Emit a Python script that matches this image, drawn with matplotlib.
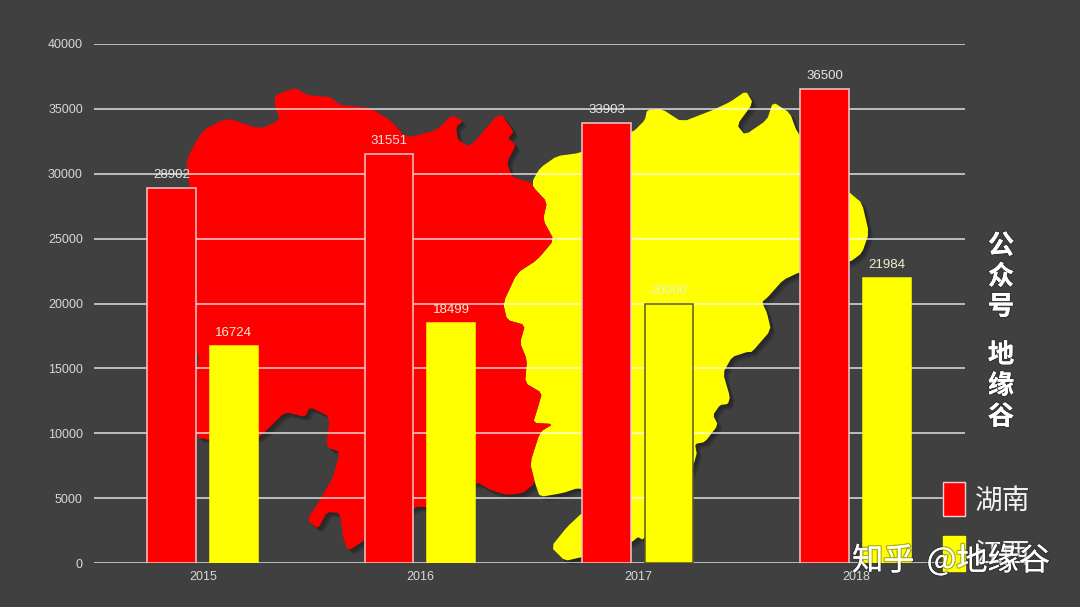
import matplotlib
matplotlib.use('Agg')
import matplotlib.pyplot as plt
import matplotlib.patheffects as pe
from matplotlib.patches import Polygon, Rectangle

plt.rcParams['font.family'] = ['Liberation Sans', 'Noto Sans CJK SC', 'DejaVu Sans']

# 数据
years = ['2015', '2016', '2017', '2018']
hunan = [28902, 31551, 33903, 36500]
jiangxi = [16724, 18499, 20000, 21984]
y_ticks = [0, 5000, 10000, 15000, 20000, 25000, 30000, 35000, 40000]

# 背景地图轮廓（像素坐标，只是装饰）
hunan_outline = [
    (275, 95), (295, 88), (307, 95), (330, 97), (340, 105), (370, 108), (390, 120),
    (407, 138), (437, 130), (452, 115), (463, 121), (456, 127), (458, 140), (470, 147),
    (500, 112), (514, 132), (508, 138), (516, 145), (507, 162), (512, 177), (532, 183),
    (533, 187), (547, 202), (543, 220), (554, 240), (537, 260), (517, 273), (503, 303),
    (507, 320), (525, 325), (520, 343), (527, 360), (525, 383), (542, 393), (538, 407),
    (533, 423), (553, 424), (540, 432), (530, 463), (535, 483), (523, 493), (507, 495),
    (490, 490), (477, 482), (445, 495), (427, 507), (415, 507), (390, 525), (365, 540),
    (348, 551), (343, 537), (340, 513), (327, 512), (318, 529), (307, 520), (320, 500),
    (333, 477), (340, 452), (326, 447), (330, 417), (310, 407), (305, 417), (285, 412),
    (267, 430), (258, 438), (209, 440), (196, 437), (196, 375), (199, 357), (196, 350),
    (190, 190), (186, 160), (203, 130), (227, 118), (260, 129), (280, 120), (275, 106),
]
jiangxi_outline = [
    (533, 180), (540, 168), (557, 156), (580, 153), (633, 132), (645, 120), (647, 110),
    (662, 109), (682, 122), (713, 110), (730, 102), (746, 91), (753, 103), (737, 125),
    (745, 135), (767, 120), (773, 102), (790, 113), (797, 132), (825, 170), (850, 193),
    (862, 203), (869, 233), (862, 253), (850, 262), (800, 272), (783, 280), (768, 297),
    (762, 302), (767, 313), (771, 330), (752, 352), (747, 352), (732, 357), (723, 373),
    (730, 397), (728, 404), (720, 405), (713, 415), (718, 425), (705, 442), (695, 444),
    (697, 455), (680, 500), (643, 540), (638, 537), (632, 542), (600, 555), (582, 557),
    (565, 561), (551, 547), (567, 527), (582, 513), (600, 500), (590, 492), (578, 488),
    (563, 493), (540, 497), (535, 483), (530, 463), (540, 432), (553, 424), (533, 423),
    (538, 407), (542, 393), (525, 383), (527, 360), (520, 343), (525, 325), (507, 320),
    (503, 303), (517, 273), (537, 260), (554, 240), (543, 220), (547, 202), (533, 187),
]


# 把折线轮廓磨圆一点
def smooth(points, n=1):
    for _ in range(n):
        new = []
        for i, (x0, y0) in enumerate(points):
            x1, y1 = points[(i + 1) % len(points)]
            new.append((0.85 * x0 + 0.15 * x1, 0.85 * y0 + 0.15 * y1))
            new.append((0.15 * x0 + 0.85 * x1, 0.15 * y0 + 0.85 * y1))
        points = new
    return points


W, H = 1080, 607
BG = '#404040'
fig = plt.figure(figsize=(W / 100, H / 100), dpi=100, facecolor=BG)

# 底层：地图
bg_ax = fig.add_axes([0, 0, 1, 1], zorder=0)
bg_ax.set_xlim(0, W)
bg_ax.set_ylim(H, 0)
bg_ax.axis('off')
hunan_shape = smooth(hunan_outline)
jiangxi_shape = smooth(jiangxi_outline)
for shape in (hunan_shape, jiangxi_shape):
    for d in (5, 4, 3, 2):
        shifted = [(x + d, y + d) for x, y in shape]
        bg_ax.add_patch(Polygon(shifted, closed=True, fc='black', ec='none', alpha=0.1))
bg_ax.add_patch(Polygon(jiangxi_shape, closed=True, fc='#ffff00', ec='none'))
bg_ax.add_patch(Polygon(hunan_shape, closed=True, fc='#ff0000', ec='none'))

# 柱状图
left, right, top, bottom = 94, 965, 44, 563
ax = fig.add_axes([left / W, 1 - bottom / H, (right - left) / W, (bottom - top) / H], zorder=1)
ax.patch.set_alpha(0)
ax.set_xlim(-0.5, 3.5)
ax.set_ylim(0, 40000)

ax.set_axisbelow(True)
ax.grid(axis='y', color='white', alpha=0.7, lw=1.3)
ax.tick_params(length=0, labelsize=9, labelcolor='#d8d8d8')
ax.tick_params(axis='y', pad=8)
ax.tick_params(axis='x', pad=6)
for s in ax.spines.values():
    s.set_visible(False)
ax.set_yticks(y_ticks)
ax.set_xticks(range(len(years)))
ax.set_xticklabels(years)

x = list(range(len(years)))
ax.bar([i - 0.145 for i in x], hunan, 0.224, color='#ff0000', edgecolor='#f4c8c8', lw=1.1, zorder=3)
bars = ax.bar([i + 0.141 for i in x], jiangxi, 0.22, color='#ffff00', edgecolor='#ffff00', lw=1.1, zorder=3)
bars[2].set_edgecolor('#5a5a20')

for i, v in enumerate(hunan):
    ax.annotate(str(v), (i - 0.145, v), xytext=(0, 5), textcoords='offset points',
                ha='center', va='bottom', fontsize=9.5, color='#e6e6e6', zorder=4)
for i, v in enumerate(jiangxi):
    ax.annotate(str(v), (i + 0.141, v), xytext=(0, 5), textcoords='offset points',
                ha='center', va='bottom', fontsize=9.5, color='#f0f0d0', zorder=4)

# 顶层：图例和文字
top_ax = fig.add_axes([0, 0, 1, 1], zorder=2)
top_ax.patch.set_alpha(0)
top_ax.set_xlim(0, W)
top_ax.set_ylim(H, 0)
top_ax.axis('off')

top_ax.add_patch(Rectangle((943, 482), 22, 34, fc='#ff0000', ec='#f4d0d0', lw=1))
top_ax.add_patch(Rectangle((943, 536), 22, 35, fc='#ffff00', ec='#ffff00', lw=1))
cjk = ['Noto Sans CJK SC', 'DejaVu Sans']
top_ax.text(975, 501, '湖南', fontsize=20, color='#f2f2f2', va='center', family=cjk)
top_ax.text(975, 555, '江西', fontsize=20, color='#f2f2f2', va='center', family=cjk)

for ch, y in zip('公众号地缘谷', [246, 277, 307, 355, 386, 417]):
    t = top_ax.text(1001, y, ch, fontsize=19, color='white', ha='center', va='center',
                    family=cjk, fontweight='bold')
    t.set_path_effects([pe.withStroke(linewidth=2, foreground='#2a2a2a', alpha=0.4), pe.Normal()])

for txt, xp, ha in [('知乎', 852, 'left'), ('@地缘谷', 1050, 'right')]:
    wm = top_ax.text(xp, 561, txt, fontsize=22.5, color='white', ha=ha, va='center', family=cjk)
    wm.set_path_effects([pe.withStroke(linewidth=2, foreground='#222222', alpha=0.35), pe.Normal()])

fig.savefig('out.png', dpi=100, facecolor=BG)
